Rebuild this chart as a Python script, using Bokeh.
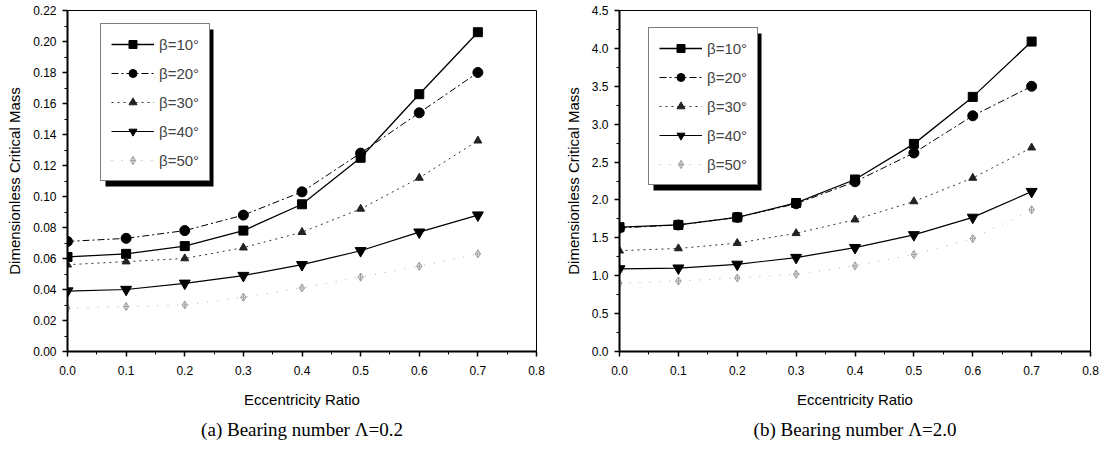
from bokeh.plotting import figure
from bokeh.layouts import row
from bokeh.models import (Range1d, FixedTicker, PrintfTickFormatter, Legend, LegendItem,
                          BoxAnnotation, Title)
from bokeh.embed import file_html
from bokeh.resources import INLINE

# ---------------- data ----------------
ecc = [0.0, 0.1, 0.2, 0.3, 0.4, 0.5, 0.6, 0.7]
labels = ["β=10°", "β=20°", "β=30°", "β=40°", "β=50°"]

# (a) Bearing number 0.2
a_b10 = [0.061, 0.063, 0.068, 0.078, 0.095, 0.125, 0.166, 0.206]
a_b20 = [0.071, 0.073, 0.078, 0.088, 0.103, 0.128, 0.154, 0.180]
a_b30 = [0.056, 0.058, 0.060, 0.067, 0.077, 0.092, 0.112, 0.136]
a_b40 = [0.039, 0.040, 0.044, 0.049, 0.056, 0.065, 0.077, 0.088]
a_b50 = [0.028, 0.029, 0.030, 0.035, 0.041, 0.048, 0.055, 0.063]

# (b) Bearing number 2.0
b_b10 = [1.64, 1.67, 1.77, 1.96, 2.27, 2.74, 3.36, 4.09]
b_b20 = [1.63, 1.67, 1.77, 1.95, 2.24, 2.62, 3.11, 3.50]
b_b30 = [1.33, 1.36, 1.43, 1.56, 1.74, 1.98, 2.29, 2.69]
b_b40 = [1.09, 1.10, 1.15, 1.24, 1.37, 1.54, 1.77, 2.11]
b_b50 = [0.90, 0.93, 0.97, 1.02, 1.13, 1.28, 1.49, 1.87]

x_ticks = [0.0, 0.1, 0.2, 0.3, 0.4, 0.5, 0.6, 0.7, 0.8]
a_y_ticks = [0.00, 0.02, 0.04, 0.06, 0.08, 0.10, 0.12, 0.14, 0.16, 0.18, 0.20, 0.22]
b_y_ticks = [0.0, 0.5, 1.0, 1.5, 2.0, 2.5, 3.0, 3.5, 4.0, 4.5]

captions = ["(a) Bearing number Λ=0.2", "(b) Bearing number Λ=2.0"]
x_label = "Eccentricity Ratio"
y_label = "Dimensionless Critical Mass"

# ---------------- styles ----------------
STYLES = [
    dict(marker="square", size=9, color="black", dash="solid", lw=1.3, lcolor="black"),
    dict(marker="circle", size=10, color="black", dash="7 3 2 3", lw=1.0, lcolor="black"),
    dict(marker="triangle", size=8, color="#222222", dash="2 4", lw=1.0, lcolor="#333333"),
    dict(marker="inverted_triangle", size=11, color="black", dash="solid", lw=1.2, lcolor="black"),
    dict(marker="diamond_cross", size=8, color="#9a9a9a", dash="1 9", lw=1.0, lcolor="#aaaaaa"),
]

FONT = "Liberation Sans"
FIG_H = 450
FRAME_H = 342


def minor(ticks):
    return [(ticks[i] + ticks[i + 1]) / 2 for i in range(len(ticks) - 1)]


def make_panel(series, y_ticks, y_fmt, caption, width, b_left, frame_w, b_top, legend_xy):
    p = figure(width=width, height=FIG_H, output_backend="svg", toolbar_location=None,
               x_range=Range1d(x_ticks[0], x_ticks[-1]),
               y_range=Range1d(y_ticks[0], y_ticks[-1]),
               min_border_left=b_left, min_border_right=width - b_left - frame_w,
               min_border_top=b_top, min_border_bottom=FIG_H - b_top - FRAME_H)
    p.xgrid.visible = False
    p.ygrid.visible = False
    p.outline_line_color = "black"
    p.outline_line_width = 1
    p.background_fill_color = "white"
    p.border_fill_color = "white"

    p.xaxis.ticker = FixedTicker(ticks=x_ticks, minor_ticks=minor(x_ticks))
    p.yaxis.ticker = FixedTicker(ticks=y_ticks, minor_ticks=minor(y_ticks))
    p.xaxis.formatter = PrintfTickFormatter(format="%.1f")
    p.yaxis.formatter = PrintfTickFormatter(format=y_fmt)
    for ax in (p.xaxis, p.yaxis):
        ax.axis_line_width = 2
        ax.axis_line_color = "black"
        ax.major_tick_in = 0
        ax.major_tick_out = 5
        ax.minor_tick_in = 0
        ax.minor_tick_out = 3
        ax.major_tick_line_width = 1.5
        ax.major_label_text_font = FONT
        ax.major_label_text_font_size = "12px"
        ax.major_label_text_color = "black"
        ax.axis_label_text_font = FONT
        ax.axis_label_text_font_size = "15px"
        ax.axis_label_text_font_style = "normal"
        ax.axis_label_text_color = "black"
    p.xaxis.major_label_standoff = 9
    p.xaxis.axis_label_standoff = 13
    p.yaxis.major_label_standoff = 6
    p.yaxis.axis_label_standoff = 7
    p.xaxis.axis_label = x_label
    p.yaxis.axis_label = y_label

    items = []
    for vals, lab, st in zip(series, labels, STYLES):
        r1 = p.line(ecc, vals, line_color=st["lcolor"], line_width=st["lw"], line_dash=st["dash"])
        r2 = p.scatter(ecc, vals, marker=st["marker"], size=st["size"],
                       fill_color=st["color"] if st["marker"] != "diamond_cross" else None,
                       line_color=st["color"], line_width=1)
        items.append(LegendItem(label=lab, renderers=[r1, r2]))

    lx, ly = legend_xy
    lw_, lh_ = 108, 157
    shadow = BoxAnnotation(left=lx + 5, right=lx + lw_ + 5, bottom=ly - 5, top=ly + lh_ - 5,
                           left_units="screen", right_units="screen",
                           bottom_units="screen", top_units="screen",
                           fill_color="black", fill_alpha=1.0, line_color=None, level="annotation")
    p.add_layout(shadow)

    leg = Legend(items=items, location=(lx, ly), glyph_width=43, glyph_height=20,
                 label_height=20, label_standoff=5, spacing=9, padding=10, margin=0,
                 label_text_font=FONT, label_text_font_size="15px",
                 border_line_color="black", border_line_width=1.5,
                 background_fill_color="white", background_fill_alpha=1.0)
    p.add_layout(leg, "center")

    p.add_layout(Title(text=caption, align="center", text_font="Liberation Serif",
                       text_font_size="19px", text_font_style="normal", text_color="black",
                       standoff=12), "below")
    return p


p1 = make_panel([a_b10, a_b20, a_b30, a_b40, a_b50], a_y_ticks, "%.2f", captions[0],
                560, 67, 469, 10, (33, 170))
p2 = make_panel([b_b10, b_b20, b_b30, b_b40, b_b50], b_y_ticks, "%.1f", captions[1],
                542, 59, 471, 9, (29, 166))

layout = row(p1, p2)
open("out.html", "w").write(file_html(layout, INLINE))
